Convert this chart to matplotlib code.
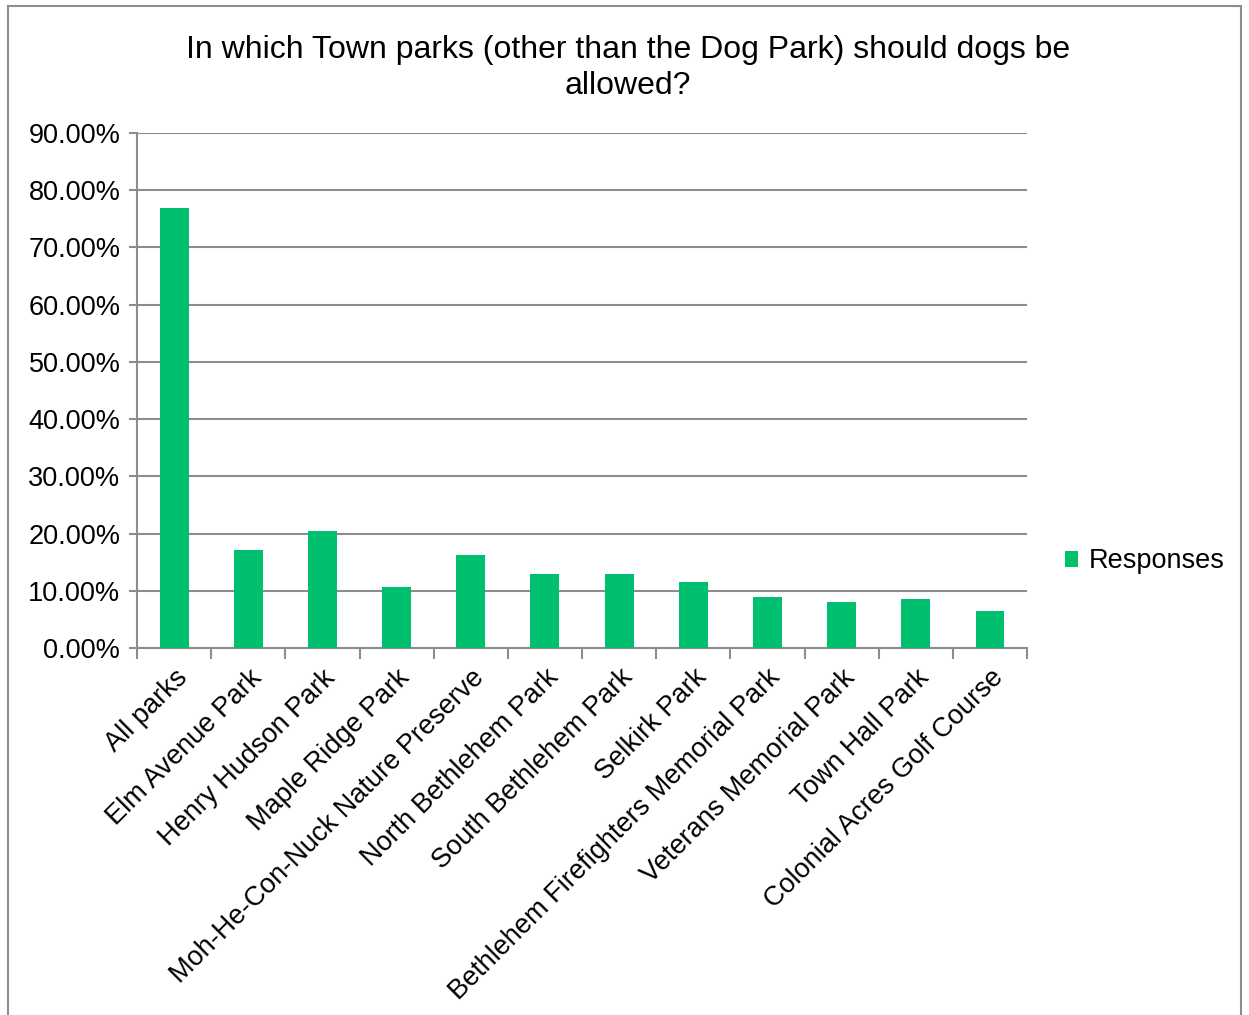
import matplotlib.pyplot as plt
import matplotlib.patches as mpatches
import numpy as np
from matplotlib.ticker import FuncFormatter, FixedLocator

# ------------------------------------------------------------
# Data
# ------------------------------------------------------------
parks = [
    "All parks",
    "Elm Avenue Park",
    "Henry Hudson Park",
    "Maple Ridge Park",
    "Moh-He-Con-Nuck Nature Preserve",
    "North Bethlehem Park",
    "South Bethlehem Park",
    "Selkirk Park",
    "Bethlehem Firefighters Memorial Park",
    "Veterans Memorial Park",
    "Town Hall Park",
    "Colonial Acres Golf Course",
]
responses = [76.8, 17.2, 20.4, 10.7, 16.2, 13.0, 13.0, 11.6, 8.9, 8.1, 8.6, 6.5]

TITLE = "In which Town parks (other than the Dog Park) should dogs be\nallowed?"
BAR_COLOR = "#00BF6F"
GRID_COLOR = "#8C8C8C"

plt.rcParams["font.family"] = ["Liberation Sans", "DejaVu Sans"]

# ------------------------------------------------------------
# Figure
# ------------------------------------------------------------
fig = plt.figure(figsize=(12.49, 10.15), dpi=100)
ax = fig.add_axes([0.1097, 0.3616, 0.7126, 0.5074])

x = np.arange(len(parks))
ax.bar(x, responses, width=0.39, color=BAR_COLOR, zorder=3, label="Responses")

ax.set_xlim(-0.5, len(parks) - 0.5)
ax.set_ylim(0, 90)
ax.set_yticks(np.arange(0, 91, 10))
ax.yaxis.set_major_formatter(FuncFormatter(lambda v, _: f"{v:.2f}%"))
ax.yaxis.grid(True, color=GRID_COLOR, linewidth=1.5, zorder=0)

# category labels at centres, tick marks at boundaries
ax.set_xticks(x)
ax.set_xticklabels(parks, rotation=45, ha="right", rotation_mode="anchor", fontsize=19.5)
ax.tick_params(axis="x", which="major", length=0, pad=12)
ax.xaxis.set_minor_locator(FixedLocator(np.arange(-0.5, len(parks), 1.0)))
ax.tick_params(axis="x", which="minor", length=8, width=1.5, color=GRID_COLOR)
ax.tick_params(axis="y", length=6, width=1.5, color=GRID_COLOR, labelsize=19.5, pad=6)

for side in ["top", "right"]:
    ax.spines[side].set_visible(False)
for side in ["left", "bottom"]:
    ax.spines[side].set_color(GRID_COLOR)
    ax.spines[side].set_linewidth(1.5)

fig.text(0.503, 0.966, TITLE, ha="center", va="top", fontsize=23, linespacing=1.3)

ax.legend(loc="center left", bbox_to_anchor=(1.015, 0.168), frameon=False,
          fontsize=19.5, handlelength=0.5, handleheight=0.5, handletextpad=0.4)

# outer chart border
fig.patches.append(mpatches.Rectangle((0.0064, -0.01), 0.987, 1.004, transform=fig.transFigure,
                                      fill=False, edgecolor="#8C8C8C", linewidth=1.5))

fig.savefig("out.png", dpi=100, facecolor="white")
